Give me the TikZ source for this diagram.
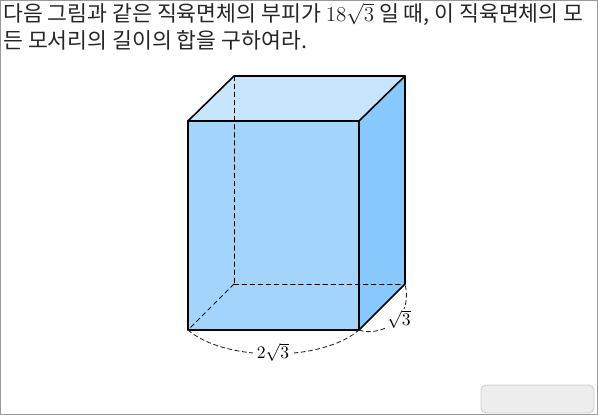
\documentclass[tikz,border=0pt]{standalone}
\usepackage{amsmath,amssymb}
\usepackage{fontspec}
\setmainfont{Noto Sans CJK KR}
\usepackage{xcolor}
\usetikzlibrary{positioning}
\definecolor{boxfront}{HTML}{A3D5FC}
\definecolor{boxtop}{HTML}{C7E5FD}
\definecolor{boxside}{HTML}{87C9FC}
\tikzset{
  every picture/.append style={line cap=round,line join=round},
  box edge/.style={black,line width=0.9pt},
  box hidden/.style={black,line width=0.5pt,dash pattern=on 2.6pt off 2pt},
  box span/.style={black!85,line width=0.5pt,dash pattern=on 2.4pt off 1.8pt},
  box label/.style={fill=white,inner sep=2.5pt},
  prompt text/.style={anchor=base west,inner sep=0pt,text height=10pt,text depth=2pt,font=\fontsize{12.3pt}{15.3pt}\selectfont,text=black!85}
}
\begin{document}
\begin{tikzpicture}[x=0.02cm,y=-0.02cm]
  \useasboundingbox (0,0) rectangle (598,415);
  \draw[black!40,line width=0.75pt] (0.5,0.5) rectangle (597.5,414.5);
  \node[prompt text] (prompta) at (3,22) {다음 그림과 같은 직육면체의 부피가 $18\sqrt{3}$ 일 때, 이 직육면체의 모};
  \node[prompt text] (promptb) at (3,49) {든 모서리의 길이의 합을 구하여라.};
  \draw[black!20,fill=black!7,rounded corners=3pt,line width=0.5pt] (481,385) rectangle (594,413);
  % corners of the box
  \coordinate (fa) at (188,330);
  \coordinate (fb) at (359,330);
  \coordinate (fc) at (359,121);
  \coordinate (fd) at (188,121);
  \coordinate (ba) at (234,284);
  \coordinate (bb) at (405,284);
  \coordinate (bc) at (405,76);
  \coordinate (bd) at (234,76);
  \fill[boxfront] (fa) -- (fb) -- (fc) -- (fd) -- cycle;
  \fill[boxtop] (fd) -- (fc) -- (bc) -- (bd) -- cycle;
  \fill[boxside] (fb) -- (bb) -- (bc) -- (fc) -- cycle;
  \draw[box hidden] (bd) -- (ba);
  \draw[box hidden] (ba) -- (fa);
  \draw[box hidden] (ba) -- (bb);
  \draw[box edge] (fa) -- (fb) -- (fc) -- (fd) -- cycle;
  \draw[box edge] (fd) -- (bd) -- (bc) -- (fc);
  \draw[box edge] (bc) -- (bb) -- (fb);
  % lengths
  \draw[box span] (fa) .. controls (225,362) and (322,362) .. (fb);
  \draw[box span] (fb) .. controls (378,337) and (414,322) .. (bb);
  \node[box label] (width) at (273,352) {$2\sqrt{3}$};
  \node[box label,inner sep=0.5pt] (depth) at (399,319) {$\sqrt{3}$};
\end{tikzpicture}
\end{document}
